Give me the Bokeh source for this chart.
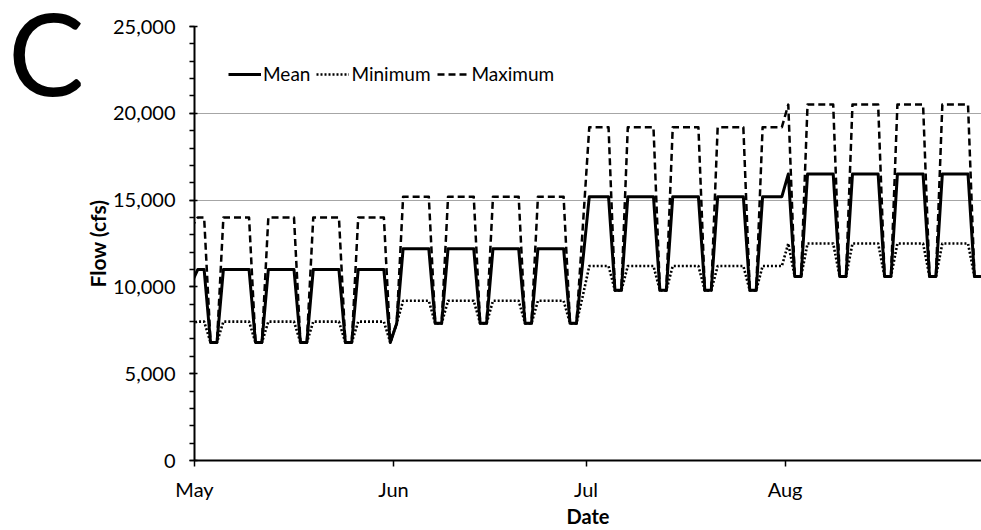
import pandas as pd
from bokeh.plotting import figure
from bokeh.layouts import row
from bokeh.models import (Range1d, FixedTicker, SingleIntervalTicker, NumeralTickFormatter,
                          DatetimeTickFormatter, Legend, LegendItem, ColumnDataSource, Div)
from bokeh.embed import file_html
from bokeh.resources import INLINE

# ---------------- data ----------------
first_day = "2014-04-30"
last_day = "2014-08-31"

month_ticks = ["2014-05-01", "2014-06-01", "2014-07-01", "2014-08-01"]
y_grid_values = [15000, 20000]

mean_apr = [10200]
min_apr = [7900]
max_apr = [13400]

mean_may = [11000, 11000, 6800, 6800, 11000, 11000, 11000, 11000, 11000, 6800, 6800,
            11000, 11000, 11000, 11000, 11000, 6800, 6800, 11000, 11000, 11000, 11000,
            11000, 6800, 6800, 11000, 11000, 11000, 11000, 11000, 6800]
min_may = [8000, 8000, 6800, 6800, 8000, 8000, 8000, 8000, 8000, 6800, 6800,
           8000, 8000, 8000, 8000, 8000, 6800, 6800, 8000, 8000, 8000, 8000,
           8000, 6800, 6800, 8000, 8000, 8000, 8000, 8000, 6800]
max_may = [14000, 14000, 6800, 6800, 14000, 14000, 14000, 14000, 14000, 6800, 6800,
           14000, 14000, 14000, 14000, 14000, 6800, 6800, 14000, 14000, 14000, 14000,
           14000, 6800, 6800, 14000, 14000, 14000, 14000, 14000, 6800]

mean_jun = [7900, 12200, 12200, 12200, 12200, 12200, 7900, 7900, 12200, 12200, 12200,
            12200, 12200, 7900, 7900, 12200, 12200, 12200, 12200, 12200, 7900, 7900,
            12200, 12200, 12200, 12200, 12200, 7900, 7900, 11500]
min_jun = [7900, 9200, 9200, 9200, 9200, 9200, 7900, 7900, 9200, 9200, 9200,
           9200, 9200, 7900, 7900, 9200, 9200, 9200, 9200, 9200, 7900, 7900,
           9200, 9200, 9200, 9200, 9200, 7900, 7900, 9500]
max_jun = [7900, 15200, 15200, 15200, 15200, 15200, 7900, 7900, 15200, 15200, 15200,
           15200, 15200, 7900, 7900, 15200, 15200, 15200, 15200, 15200, 7900, 7900,
           15200, 15200, 15200, 15200, 15200, 7900, 7900, 13500]

mean_jul = [15200, 15200, 15200, 15200, 9800, 9800, 15200, 15200, 15200, 15200, 15200,
            9800, 9800, 15200, 15200, 15200, 15200, 15200, 9800, 9800, 15200, 15200,
            15200, 15200, 15200, 9800, 9800, 15200, 15200, 15200, 15200]
min_jul = [11200, 11200, 11200, 11200, 9800, 9800, 11200, 11200, 11200, 11200, 11200,
           9800, 9800, 11200, 11200, 11200, 11200, 11200, 9800, 9800, 11200, 11200,
           11200, 11200, 11200, 9800, 9800, 11200, 11200, 11200, 11200]
max_jul = [19200, 19200, 19200, 19200, 9800, 9800, 19200, 19200, 19200, 19200, 19200,
           9800, 9800, 19200, 19200, 19200, 19200, 19200, 9800, 9800, 19200, 19200,
           19200, 19200, 19200, 9800, 9800, 19200, 19200, 19200, 19200]

mean_aug = [16500, 10600, 10600, 16500, 16500, 16500, 16500, 16500, 10600, 10600, 16500,
            16500, 16500, 16500, 16500, 10600, 10600, 16500, 16500, 16500, 16500, 16500,
            10600, 10600, 16500, 16500, 16500, 16500, 16500, 10600, 10600]
min_aug = [12500, 10600, 10600, 12500, 12500, 12500, 12500, 12500, 10600, 10600, 12500,
           12500, 12500, 12500, 12500, 10600, 10600, 12500, 12500, 12500, 12500, 12500,
           10600, 10600, 12500, 12500, 12500, 12500, 12500, 10600, 10600]
max_aug = [20500, 10600, 10600, 20500, 20500, 20500, 20500, 20500, 10600, 10600, 20500,
           20500, 20500, 20500, 20500, 10600, 10600, 20500, 20500, 20500, 20500, 20500,
           10600, 10600, 20500, 20500, 20500, 20500, 20500, 10600, 10600]

mean_flow = mean_apr + mean_may + mean_jun + mean_jul + mean_aug
min_flow = min_apr + min_may + min_jun + min_jul + min_aug
max_flow = max_apr + max_may + max_jun + max_jul + max_aug

# daily points are placed in the middle of each day (date-axis style)
dates = pd.date_range(first_day, last_day, freq="D") + pd.Timedelta(hours=12)

src = ColumnDataSource(dict(date=dates, mean=mean_flow, mn=min_flow, mx=max_flow))

FONT = "Lato"

x_start = pd.Timestamp("2014-05-01")
x_end = x_start + pd.Timedelta(days=122.6)

LETTER_W = 80

p = figure(width=981 - LETTER_W, height=530, x_axis_type="datetime",
           output_backend="svg", toolbar_location=None,
           x_range=Range1d(x_start, x_end), y_range=Range1d(0, 25000),
           min_border_left=194 - LETTER_W, min_border_right=0, min_border_top=26,
           min_border_bottom=70)
p.outline_line_color = None
p.background_fill_color = "white"
p.border_fill_color = "white"

r_max = p.line("date", "mx", source=src, line_color="black", line_width=2.5,
               line_dash="7 4", line_join="round")
r_min = p.line("date", "mn", source=src, line_color="black", line_width=2.6,
               line_dash="2 2", line_join="round")
r_mean = p.line("date", "mean", source=src, line_color="black", line_width=3,
                line_join="round")

# axes
xa = p.xaxis[0]
xa.ticker = FixedTicker(ticks=[pd.Timestamp(d).value / 1e6 for d in month_ticks])
xa.formatter = DatetimeTickFormatter(milliseconds="%b", seconds="%b", minsec="%b",
                                     minutes="%b", hourmin="%b", hours="%b", days="%b",
                                     months="%b", years="%b")
xa.axis_line_color = "black"
xa.axis_line_width = 2
xa.major_tick_line_color = "black"
xa.major_tick_line_width = 1.5
xa.major_tick_out = 6
xa.major_tick_in = 0
xa.minor_tick_line_color = None
xa.major_label_text_font = FONT
xa.major_label_text_font_size = "20px"
xa.major_label_text_color = "black"
xa.major_label_standoff = 10
xa.axis_label = "Date"
xa.axis_label_text_font = FONT
xa.axis_label_text_font_style = "bold"
xa.axis_label_text_font_size = "20px"
xa.axis_label_text_color = "black"
xa.axis_label_standoff = 0

ya = p.yaxis[0]
ya.ticker = SingleIntervalTicker(interval=5000, num_minor_ticks=5)
ya.formatter = NumeralTickFormatter(format="0,0")
ya.axis_line_color = "black"
ya.axis_line_width = 2
ya.major_tick_line_color = "black"
ya.major_tick_line_width = 1.5
ya.major_tick_out = 5
ya.major_tick_in = 3
ya.minor_tick_line_color = "black"
ya.minor_tick_line_width = 1.5
ya.minor_tick_out = 5
ya.minor_tick_in = 0
ya.major_label_text_font = FONT
ya.major_label_text_font_size = "20px"
ya.major_label_text_color = "black"
ya.major_label_standoff = 14
ya.axis_label = "Flow (cfs)"
ya.axis_label_text_font = FONT
ya.axis_label_text_font_style = "bold"
ya.axis_label_text_font_size = "21px"
ya.axis_label_text_color = "black"
ya.axis_label_standoff = 0

p.xgrid.grid_line_color = None
p.ygrid.ticker = FixedTicker(ticks=y_grid_values)
p.ygrid.grid_line_color = "#a6a6a6"
p.ygrid.grid_line_width = 1.2

# legend
legend = Legend(items=[LegendItem(label="Mean", renderers=[r_mean]),
                       LegendItem(label="Minimum", renderers=[r_min]),
                       LegendItem(label="Maximum", renderers=[r_max])],
                orientation="horizontal", location=(34, 375),
                glyph_width=33, glyph_height=20, label_standoff=2, spacing=6,
                padding=0, margin=0, border_line_color=None,
                background_fill_alpha=0, label_text_font=FONT,
                label_text_font_size="19px", label_text_color="black")
p.add_layout(legend, "center")

# panel letter
letter = Div(text="C", width=LETTER_W, height=530,
             styles={"font-family": "Lato", "font-size": "115px", "line-height": "0.9",
                     "color": "black", "padding-left": "8px", "margin": "0"})

layout = row(letter, p, spacing=0)

open("out.html", "w").write(file_html(layout, INLINE))
